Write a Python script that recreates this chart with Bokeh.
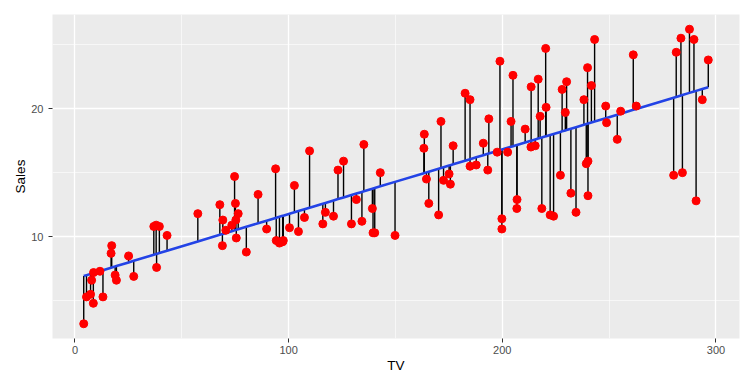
import numpy as np
from bokeh.plotting import figure
from bokeh.models import Range1d, FixedTicker, ColumnDataSource
from bokeh.embed import file_html
from bokeh.resources import INLINE

# Advertising data (subset shown in the chart): TV budget vs Sales
tv = [4.1, 5.4, 7.3, 7.8, 8.7, 8.6, 11.7, 13.1, 17.2, 16.9, 18.8, 19.4, 25.1, 27.5,
      36.9, 38.0, 39.5, 38.2, 43.1, 57.5, 67.8, 69.2, 69.0, 70.6, 74.7, 75.1, 76.4,
      75.3, 73.4, 75.5, 80.2, 85.7, 89.7, 93.9, 94.2, 95.7, 97.2, 97.5, 100.4, 102.7,
      104.6, 107.4, 109.8, 116.0, 117.2, 121.0, 123.1, 125.7, 129.4, 131.7, 134.3,
      135.2, 139.2, 139.5, 140.3, 142.9, 149.8, 163.5, 163.3, 164.5, 165.6, 170.2,
      171.3, 172.5, 175.1, 175.7, 177.0, 182.6, 184.9, 184.9, 187.8, 191.1, 193.2,
      193.7, 197.6, 199.8, 199.8, 198.9, 202.5, 204.1, 205.0, 206.9, 206.8, 210.7,
      213.5, 216.8, 213.4, 215.4, 217.7, 220.5, 218.5, 222.4, 224.0, 228.0, 227.2,
      220.3, 230.1, 229.5, 232.1, 234.5, 238.2, 240.1, 239.3, 240.1, 239.9, 241.7,
      243.2, 248.4, 248.8, 253.8, 255.4, 261.3, 262.7, 280.2, 284.3, 290.7, 281.4,
      283.6, 287.6, 289.7, 293.6, 296.4]
sales = [3.2, 5.3, 5.5, 6.6, 7.2, 4.8, 7.3, 5.3, 9.3, 8.7, 7.0, 6.6, 8.5, 6.9,
         10.8, 10.9, 10.8, 7.6, 10.1, 11.8, 12.5, 11.3, 9.3, 10.5, 14.7, 12.6, 11.8,
         11.3, 10.9, 9.9, 8.8, 13.3, 10.6, 15.3, 9.7, 9.5, 9.6, 9.7, 10.7, 14.0,
         10.4, 11.5, 16.7, 11.0, 11.9, 11.6, 15.2, 15.9, 11.0, 12.9, 11.2,
         17.2, 12.2, 10.3, 10.3, 15.0, 10.1, 18.0, 16.9, 14.5, 12.6, 11.7,
         19.0, 14.4, 14.9, 14.1, 17.1, 21.2, 20.7, 15.5, 15.6, 17.3, 15.2,
         19.2, 16.6, 11.4, 10.6, 23.7, 16.6, 19.0, 22.6, 12.9, 12.2, 18.4,
         21.7, 22.3, 17.0, 17.1, 19.4, 20.1, 12.2, 11.7, 11.6, 21.5, 14.8,
         24.7, 22.1, 19.7, 13.4, 11.9, 20.7, 13.2, 15.7, 15.9, 23.2, 21.8,
         25.4, 20.2, 18.9, 17.6, 19.8, 24.2, 20.2, 14.8, 15.0, 12.8, 24.4,
         25.5, 26.2, 25.4, 20.7, 23.8]
x_ticks = [0, 100, 200, 300]
x_minor = [50, 150, 250]
y_ticks = [10, 20]
y_minor = [5, 15, 25]

tv_a = np.array(tv, dtype=float)
sales_a = np.array(sales, dtype=float)
slope, intercept = np.polyfit(tv_a, sales_a, 1)
fitted = intercept + slope * tv_a


def padded(a, frac=0.05):
    lo, hi = float(a.min()), float(a.max())
    d = (hi - lo) * frac
    return lo - d, hi + d


p = figure(frame_width=687, frame_height=324,
           min_border_left=52, min_border_right=4, min_border_top=14, min_border_bottom=40,
           output_backend="svg", toolbar_location=None,
           x_range=Range1d(*padded(tv_a)), y_range=Range1d(*padded(sales_a)))

p.background_fill_color = "#EBEBEB"
p.border_fill_color = "white"
p.outline_line_color = None

p.xaxis.ticker = FixedTicker(ticks=x_ticks, minor_ticks=x_minor)
p.yaxis.ticker = FixedTicker(ticks=y_ticks, minor_ticks=y_minor)

for g in (p.xgrid, p.ygrid):
    g.grid_line_color = "white"
    g.grid_line_width = 1.3
    g.minor_grid_line_color = "white"
    g.minor_grid_line_width = 0.6

p.xaxis.axis_label = "TV"
p.yaxis.axis_label = "Sales"
for ax in (p.xaxis, p.yaxis):
    ax.axis_line_color = None
    ax.major_tick_in = 0
    ax.major_tick_out = 4
    ax.major_tick_line_color = "#333333"
    ax.minor_tick_in = 0
    ax.minor_tick_out = 0
    ax.major_label_text_font = "Liberation Sans"
    ax.major_label_text_font_size = "11px"
    ax.major_label_text_color = "#4D4D4D"
    ax.axis_label_text_font = "Liberation Sans"
    ax.axis_label_text_font_size = "13.5px"
    ax.axis_label_text_font_style = "normal"
    ax.axis_label_text_color = "black"
p.xaxis.major_label_standoff = 3
p.xaxis.axis_label_standoff = 1
p.yaxis.major_label_standoff = 5
p.yaxis.axis_label_standoff = 0

src = ColumnDataSource(dict(tv=tv_a, sales=sales_a, fit=fitted))
p.segment(x0="tv", y0="sales", x1="tv", y1="fit", source=src,
          line_color="black", line_width=1.4)
order = np.argsort(tv_a)
p.line(tv_a[order], fitted[order], line_color="#2343E6", line_width=2.6)
p.scatter(x="tv", y="sales", source=src, size=8, fill_color="red", line_color="red")

open("out.html", "w").write(file_html(p, INLINE))
